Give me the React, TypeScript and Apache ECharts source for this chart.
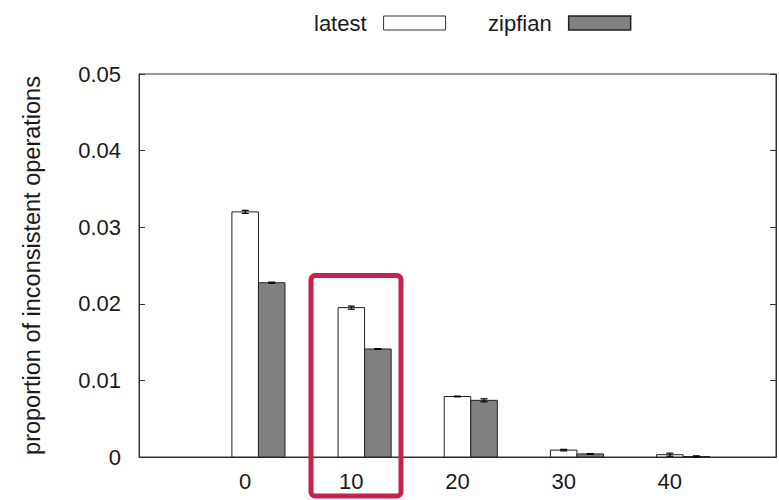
import React, { useEffect, useRef } from "react";
import * as echarts from "echarts";

const xValues = [0, 10, 20, 30, 40];
const latestValues = [0.032, 0.0195, 0.0079, 0.0009, 0.0003];
const latestErrors = [0.0002, 0.0002, 0.00005, 0.0001, 0.0002];
const zipfianValues = [0.02275, 0.0141, 0.0074, 0.0004, 0.00005];
const zipfianErrors = [0.00008, 0.00005, 0.0002, 0.00005, 0.0001];
const yTicks = { min: 0, max: 0.05, interval: 0.01 };
const xRange = { min: -10, max: 50, interval: 10 };
const seriesNames = ["latest", "zipfian"];

const FONT = "'Liberation Sans', Arial, Helvetica, sans-serif";
const BAR_W = 2.5; // bar width in x-axis units
const TXT = "#1a1a1a";

function makeRender(offset: number, fill: string) {
  return (params: any, api: any) => {
    const x = api.value(0) + offset;
    const v = api.value(1);
    const e = api.value(2);
    const p0 = api.coord([x - BAR_W / 2, v]);
    const p1 = api.coord([x + BAR_W / 2, 0]);
    const top = api.coord([x, v + e]);
    const bot = api.coord([x, v - e]);
    const cx = top[0];
    return {
      type: "group",
      children: [
        {
          type: "rect",
          shape: { x: p0[0], y: p0[1], width: p1[0] - p0[0], height: p1[1] - p0[1] },
          style: { fill, stroke: "#222", lineWidth: 1 },
        },
        {
          type: "line",
          shape: { x1: cx, y1: top[1], x2: cx, y2: bot[1] },
          style: { stroke: "#000", lineWidth: 1.2 },
        },
        {
          type: "line",
          shape: { x1: cx - 3.5, y1: top[1], x2: cx + 3.5, y2: top[1] },
          style: { stroke: "#000", lineWidth: 1.2 },
        },
        {
          type: "line",
          shape: { x1: cx - 3.5, y1: bot[1], x2: cx + 3.5, y2: bot[1] },
          style: { stroke: "#000", lineWidth: 1.2 },
        },
      ],
    };
  };
}

export default function App() {
  const ref = useRef<HTMLDivElement>(null);
  useEffect(() => {
    if (!ref.current) return;
    const chart = echarts.init(ref.current, null, { renderer: "svg" });
    const latestData = xValues.map((x, i) => [x, latestValues[i], latestErrors[i]]);
    const zipfianData = xValues.map((x, i) => [x, zipfianValues[i], zipfianErrors[i]]);
    const yAxisBase = {
      type: "value",
      min: yTicks.min,
      max: yTicks.max,
      interval: yTicks.interval,
      splitLine: { show: false },
      axisLine: { show: true, onZero: false, lineStyle: { color: "#333", width: 1 } },
      axisTick: { show: true, inside: true, length: 6, lineStyle: { color: "#333" } },
    };
    chart.setOption({
      animation: false,
      backgroundColor: "#ffffff",
      textStyle: { fontFamily: FONT },
      grid: {
        left: 139,
        right: 1,
        top: 74,
        bottom: 43,
        show: true,
        borderColor: "#333",
        borderWidth: 1,
        backgroundColor: "transparent",
      },
      legend: {
        left: 309,
        top: 7,
        align: "right",
        itemWidth: 62,
        itemHeight: 14,
        itemGap: 42,
        selectedMode: false,
        textStyle: { fontSize: 22, color: TXT, fontFamily: FONT, padding: [0, 12, 0, 0] },
        data: [
          {
            name: seriesNames[0],
            icon: "rect",
            itemStyle: { color: "#ffffff", borderColor: "#333", borderWidth: 1 },
          },
          {
            name: seriesNames[1],
            icon: "rect",
            itemStyle: { color: "#808080", borderColor: "#222", borderWidth: 1.5 },
          },
        ],
      },
      xAxis: {
        type: "value",
        min: xRange.min,
        max: xRange.max,
        interval: xRange.interval,
        splitLine: { show: false },
        axisTick: { show: false },
        axisLine: { show: true, onZero: false, lineStyle: { color: "#333", width: 1 } },
        axisLabel: {
          fontSize: 22,
          color: TXT,
          fontFamily: FONT,
          margin: 13,
          formatter: (v: number) => (v < xValues[0] || v > xValues[xValues.length - 1] ? "" : String(v)),
        },
      },
      yAxis: [
        {
          ...yAxisBase,
          position: "left",
          name: "proportion of inconsistent operations",
          nameLocation: "middle",
          nameRotate: 90,
          nameGap: 107,
          nameTextStyle: { fontSize: 23.5, color: TXT, fontFamily: FONT, verticalAlign: "middle" },
          axisLabel: {
            fontSize: 22,
            color: TXT,
            fontFamily: FONT,
            margin: 18,
            formatter: (v: number) => (v === 0 ? "0" : v.toFixed(2)),
          },
        },
        {
          ...yAxisBase,
          position: "right",
          axisLabel: { show: false },
        },
      ],
      series: [
        {
          name: seriesNames[0],
          type: "custom",
          xAxisIndex: 0,
          yAxisIndex: 0,
          itemStyle: { color: "#ffffff", borderColor: "#333" },
          renderItem: makeRender(0, "#ffffff"),
          encode: { x: 0, y: 1 },
          data: latestData,
          z: 3,
        },
        {
          name: seriesNames[1],
          type: "custom",
          xAxisIndex: 0,
          yAxisIndex: 0,
          itemStyle: { color: "#808080", borderColor: "#222" },
          renderItem: makeRender(BAR_W, "#808080"),
          encode: { x: 0, y: 1 },
          data: zipfianData,
          z: 3,
        },
      ],
      graphic: [
        {
          type: "rect",
          z: 100,
          shape: { x: 311, y: 275.5, width: 90, height: 220.5, r: 4 },
          style: { fill: "none", stroke: "#c8214b", lineWidth: 5 },
        },
      ],
    });
    return () => chart.dispose();
  }, []);
  return (
    <div
      ref={ref}
      style={{ position: "absolute", left: 0, top: 0, width: 779, height: 500 }}
    />
  );
}
